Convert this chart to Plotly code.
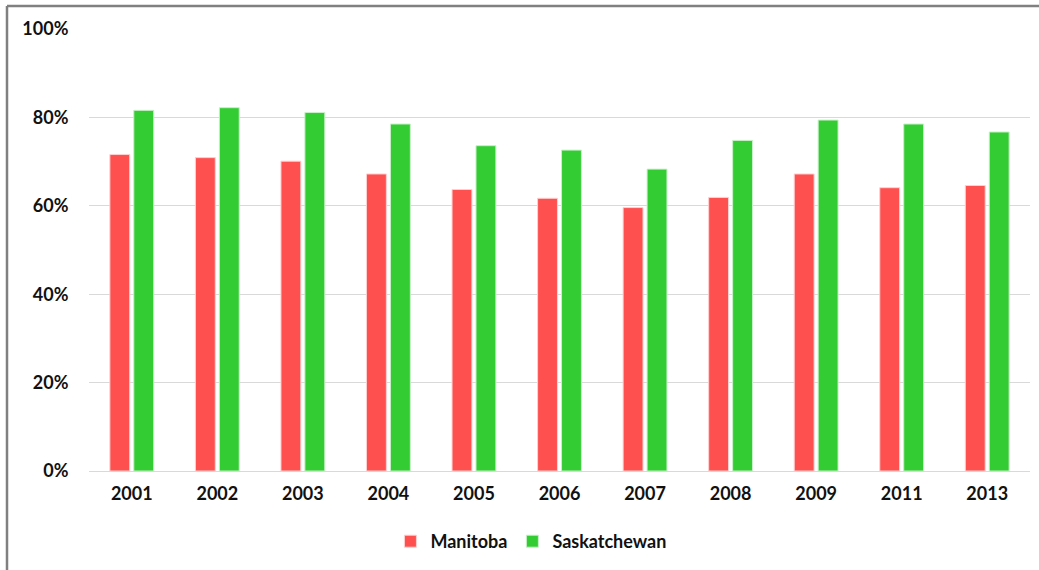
import plotly.graph_objects as go

years = ["2001", "2002", "2003", "2004", "2005", "2006", "2007", "2008", "2009", "2011", "2013"]
manitoba = [0.716, 0.709, 0.701, 0.672, 0.637, 0.617, 0.596, 0.619, 0.672, 0.641, 0.646]
saskatchewan = [0.816, 0.822, 0.811, 0.785, 0.736, 0.726, 0.683, 0.748, 0.794, 0.785, 0.767]
y_ticks = [0, 0.2, 0.4, 0.6, 0.8, 1.0]
y_labels = ["0%", "20%", "40%", "60%", "80%", "100%"]

FONT = "Lato, 'Open Sans', sans-serif"

fig = go.Figure()
fig.add_trace(go.Bar(x=years, y=manitoba, name="Manitoba",
                     marker=dict(color="#FF5050", line=dict(color="#FFD0D0", width=1))))
fig.add_trace(go.Bar(x=years, y=saskatchewan, name="Saskatchewan",
                     marker=dict(color="#33CC33", line=dict(color="#C8F0C8", width=1))))

fig.update_layout(
    width=1039, height=570,
    margin=dict(l=89, r=9, t=29, b=99),
    paper_bgcolor="white", plot_bgcolor="white",
    barmode="group", bargap=0.44, bargroupgap=0.17,
    font=dict(family=FONT, size=18, color="#111111"),
    showlegend=True,
    legend=dict(orientation="h", xref="container", yref="container",
                x=0.511, xanchor="center", y=0.05, yanchor="middle",
                font=dict(family=FONT, size=18, color="#111111", weight="bold"),
                itemwidth=30, traceorder="normal"),
    xaxis=dict(type="category", showgrid=False, showline=False,
               ticks="outside", ticklen=6, tickcolor="rgba(0,0,0,0)",
               tickfont=dict(family=FONT, size=18, weight="bold", color="#111111")),
    yaxis=dict(range=[0, 1], tickvals=y_ticks, ticktext=y_labels,
               showgrid=True, gridcolor="#D9D9D9", gridwidth=1,
               zeroline=True, zerolinecolor="#D9D9D9", zerolinewidth=1,
               showline=False, ticks="outside", ticklen=16, tickcolor="rgba(0,0,0,0)",
               tickfont=dict(family=FONT, size=18, weight="bold", color="#111111")),
    shapes=[
        dict(type="line", xref="paper", yref="paper",
             x0=-82/941, x1=1.1, y0=1 + 23/442, y1=1 + 23/442,
             line=dict(color="#808080", width=2.5)),
        dict(type="line", xref="paper", yref="paper",
             x0=-82/941, x1=-82/941, y0=-0.3, y1=1 + 23/442,
             line=dict(color="#808080", width=2.5)),
    ],
)

fig.write_html("out.html", config={"displayModeBar": False},
               post_script="document.body.style.margin='0';")
